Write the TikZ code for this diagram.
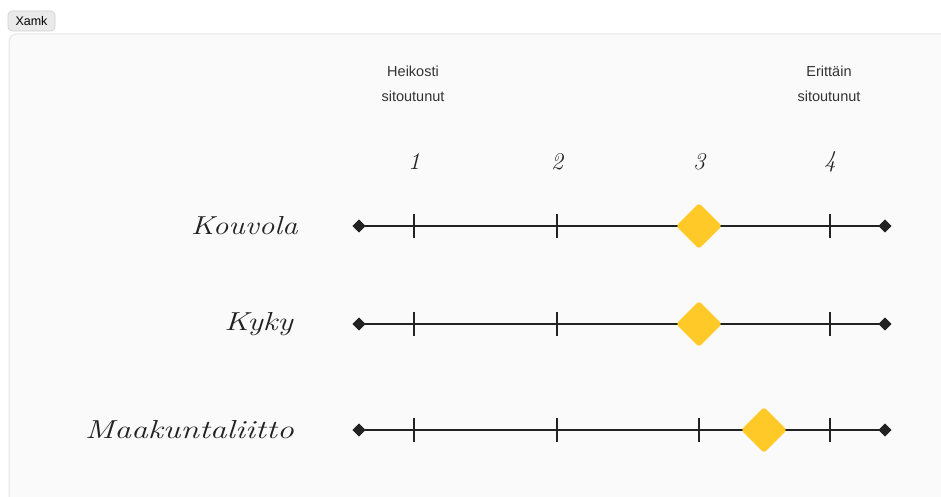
\documentclass[tikz,border=0pt]{standalone}
\usepackage{fontspec}
\setmainfont{Latin Modern Roman}
\newfontfamily\uisans{Liberation Sans}
\usetikzlibrary{shapes.geometric}
\definecolor{cardbg}{HTML}{FAFAFA}
\definecolor{cardline}{HTML}{E6E6E6}
\definecolor{tagbg}{HTML}{EAEAEA}
\definecolor{tagline}{HTML}{CFCFCF}
\definecolor{ink}{HTML}{222222}
\definecolor{marker}{HTML}{FFC928}
\definecolor{txt}{HTML}{333333}
\tikzset{
  x=1pt, y=-1pt,
  endmark/.style={diamond, fill=ink, inner sep=0pt, minimum size=13pt},
  scoremark/.style={diamond, fill=marker, inner sep=0pt, minimum size=46pt, rounded corners=3pt},
  axisline/.style={draw=ink, line width=2.2pt},
  tickline/.style={draw=ink, line width=2pt},
  hand/.style={font=\fontsize{26}{28}\selectfont\itshape, text=ink},
  rowlabel/.style={hand, anchor=east, inner sep=0pt},
  numlabel/.style={font=\fontsize{24}{26}\selectfont\itshape, text=ink},
  caption/.style={font=\uisans\fontsize{14.5}{25}\selectfont, text=txt, align=center},
}
\begin{document}
\begin{tikzpicture}
\useasboundingbox (0,0) rectangle (941,497);
\fill[white] (0,0) rectangle (941,497);
% card
\draw[fill=cardbg, draw=cardline, line width=1pt, rounded corners=8pt] (9,34) rectangle (960,520);
% tag
\node[draw=tagline, fill=tagbg, rounded corners=4pt, line width=0.6pt, font=\uisans\fontsize{12.5}{14}\selectfont, minimum width=47pt, minimum height=20pt, inner sep=2pt] (tag) at (31.5,21) {Xamk};
% captions
\node[caption] (weak) at (413,84) {Heikosti\\sitoutunut};
\node[caption] (strong) at (829,84) {Erittäin\\sitoutunut};
% numbers
\foreach \n/\x in {1/414,2/557,3/699,4/830}{
  \node[numlabel] (num\n) at (\x,162) {\n};
}
% rows
\foreach \name/\lab/\y/\sx/\lx/\sc in {kou/Kouvola/226/699/298/1.2,kyk/Kyky/324/699/293/1.25,maa/Maakuntaliitto/430/764/294/1.29}{
  \node[rowlabel] (\name label) at (\lx,\y) {\scalebox{\sc}[1]{\lab}};
  \node[endmark] (\name L) at (359,\y) {};
  \node[endmark] (\name R) at (885,\y) {};
  \draw[axisline] (\name L.center) -- (\name R.center);
  \foreach \t in {414,557,699,830}{
    \draw[tickline] (\t,\y-12) -- (\t,\y+12);
  }
  \node[scoremark] (\name score) at (\sx,\y) {};
  \node[endmark] at (\name L) {};
  \node[endmark] at (\name R) {};
}
\end{tikzpicture}
\end{document}
